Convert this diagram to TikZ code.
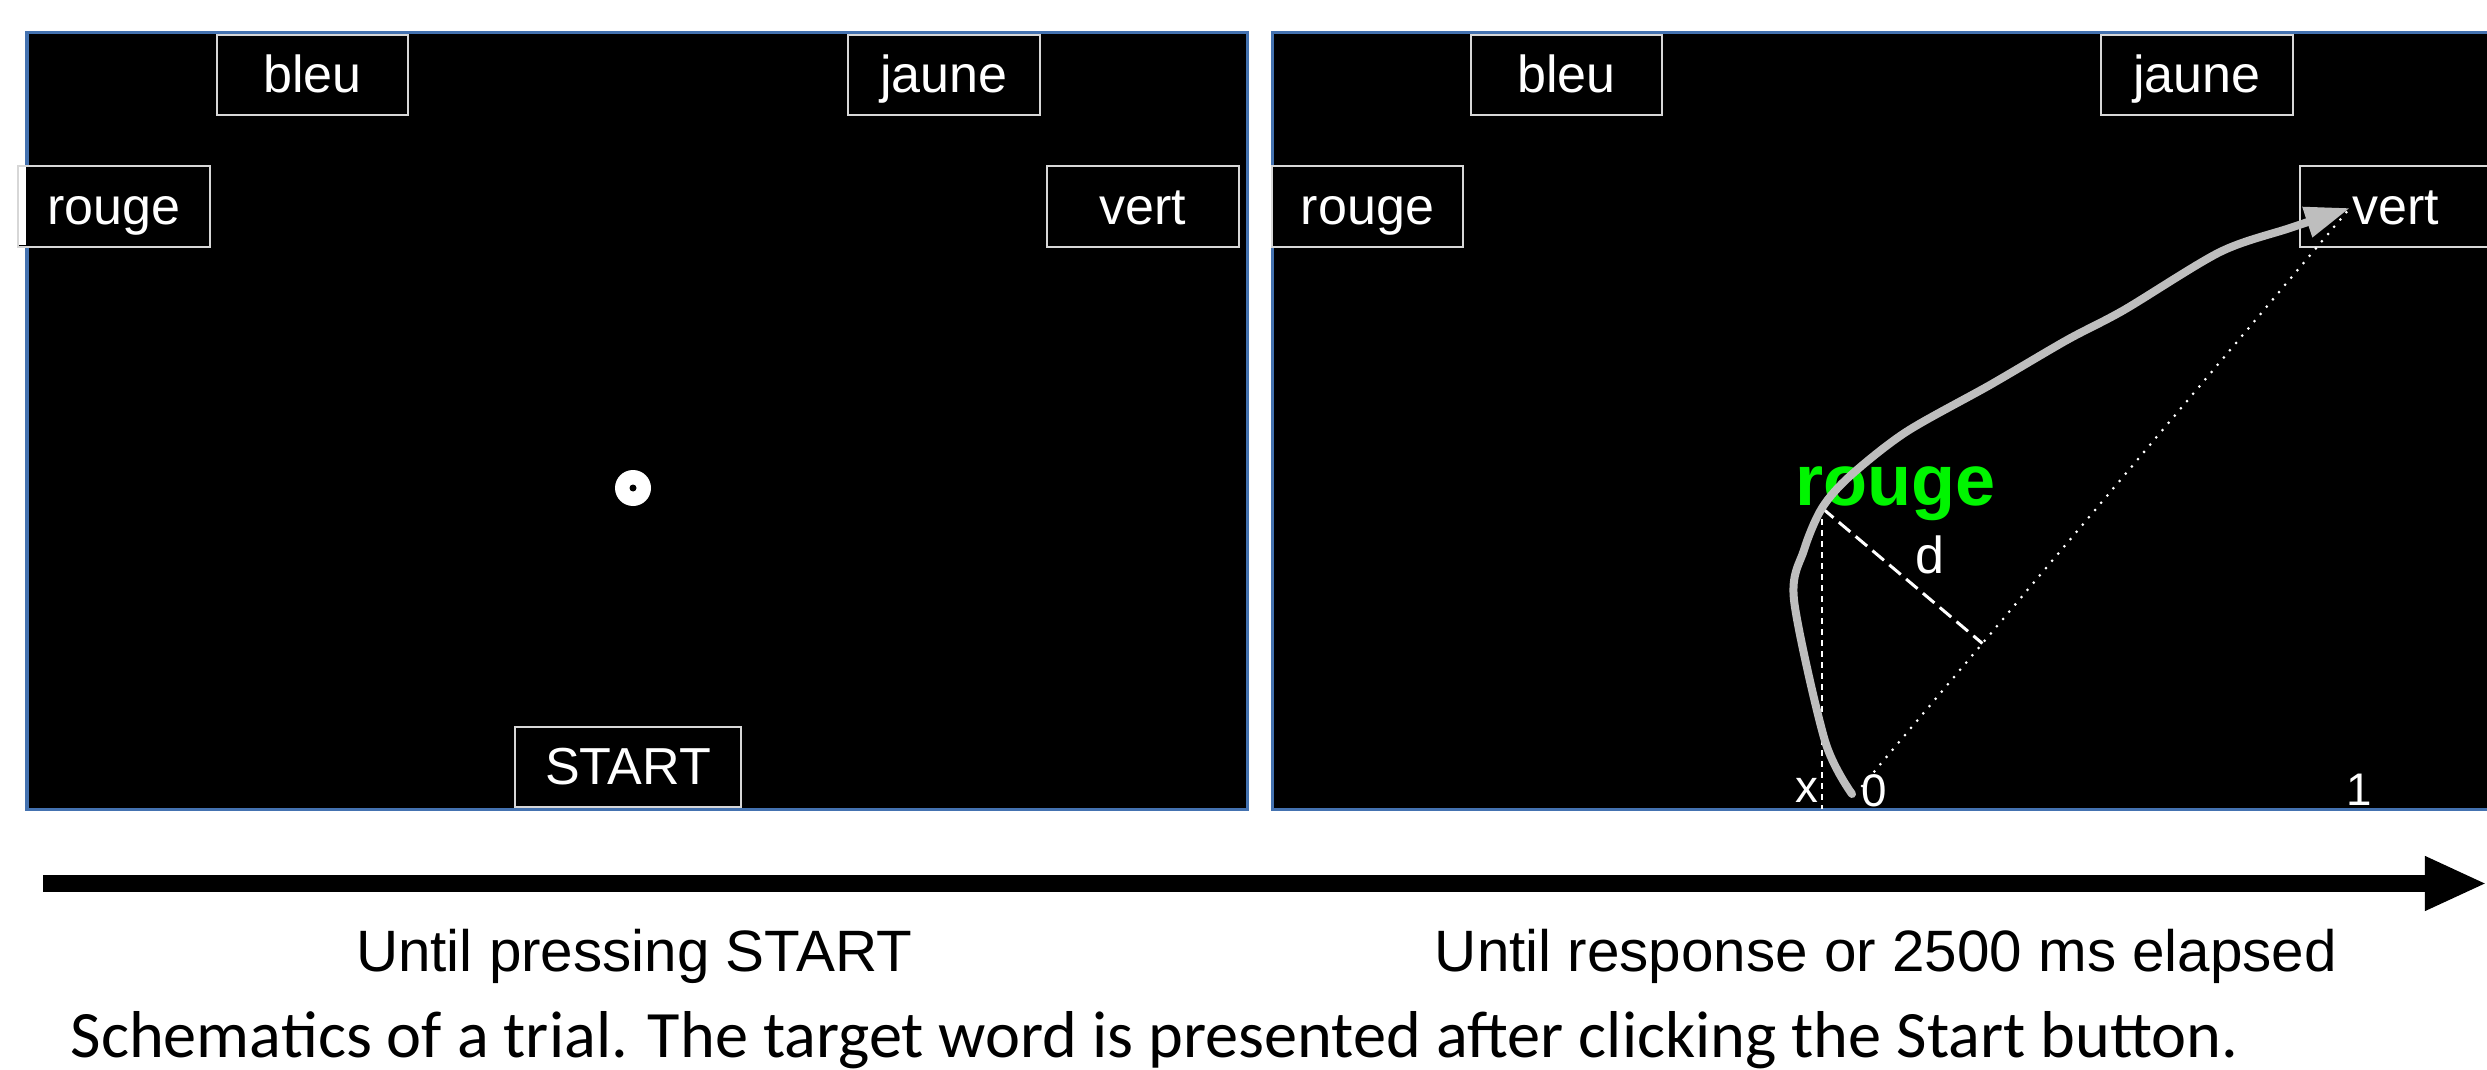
\documentclass[tikz,border=0pt]{standalone}
\usepackage{fontspec}
\setmainfont{Liberation Sans}
\newfontfamily\capfont{Carlito}
\usetikzlibrary{arrows.meta,calc}
\definecolor{panelblue}{RGB}{68,114,176}
\definecolor{boxgray}{RGB}{215,215,215}
\definecolor{trajgray}{RGB}{190,190,190}
\definecolor{wordgreen}{RGB}{0,245,0}
\tikzset{
  panel/.style={fill=black, draw=panelblue, line width=0.03cm},
  btn/.style={draw=boxgray, fill=black, line width=0.02cm, minimum width=1.91cm,
    minimum height=0.80cm, inner sep=0pt, text=white,
    font=\fontsize{14.8}{17}\selectfont, text height=13.3pt, text depth=3.1pt},
  axlabel/.style={text=white, inner sep=0pt, anchor=base, font=\fontsize{13}{15}\selectfont},
  phase/.style={text=black, inner sep=0pt, anchor=base, font=\fontsize{16.6}{19}\selectfont},
  traj/.style={draw=trajgray, line width=0.08cm, line cap=round, line join=round,
    -{Triangle[length=0.45cm,width=0.30cm]}},
  dotline/.style={draw=white, line width=0.03cm, line cap=round, dash pattern=on 0pt off 0.095cm},
  vdash/.style={draw=white, line width=0.02cm, dash pattern=on 0.06cm off 0.05cm},
  ddash/.style={draw=white, line width=0.03cm, dash pattern=on 0.15cm off 0.07cm},
  timeline/.style={draw=black, line width=0.17cm, -{Triangle[length=0.62cm,width=0.50cm]}}
}
\begin{document}
\begin{tikzpicture}[x=0.01cm, y=-0.01cm]
\useasboundingbox (0,0) rectangle (2487,1070);
\clip (0,0) rectangle (2487,1070);
\fill[white] (0,0) rectangle (2487,1070);

% panels
\draw[panel] (27,33) rectangle (1247,809);
\draw[panel] (1272,33) rectangle (2540,809);

% left panel buttons
\node[btn] (lbleu)  at (312.5,75)  {bleu};
\node[btn] (ljaune) at (944,75)    {jaune};
\node[btn] (lrouge) at (114,206.5) {rouge};
\fill[white] (19,167.5) rectangle (25.5,245.5);
\node[btn] (lvert)  at (1143,206.5){vert};
\node[btn, minimum width=2.26cm] (lstart) at (628,767) {START};

% fixation target
\fill[white] (633,488) circle (18);
\fill[black] (633,488) circle (3.5);

% right panel buttons
\node[btn] (rbleu)  at (1566.5,75)  {bleu};
\node[btn] (rjaune) at (2197,75)    {jaune};
\node[btn] (rrouge) at (1367.5,206.5) {rouge};
\node[btn] (rvert)  at (2395.5,206.5) {vert};

% target word
\node[text=wordgreen, inner sep=0pt, anchor=base west,
      font=\fontsize{20.5}{24}\bfseries\selectfont] (word) at (1795,505) {rouge};

% geometry
\coordinate (orig) at (1862,786);
\coordinate (tgt)  at (2350,208);
\coordinate (pt)   at (1822,508);
\coordinate (xbot) at (1822,809);
\coordinate (foot) at ($(orig)!(pt)!(tgt)$);

\draw[dotline] (orig) -- (tgt);
\draw[vdash] (pt) -- (xbot);
\draw[ddash] (pt) -- (foot);

% trajectory
\coordinate (t0) at (1852,794);
\coordinate (t1) at (1825,741);
\coordinate (t2) at (1794,600);
\coordinate (t3) at (1804,550);
\coordinate (t4) at (1822,508);
\coordinate (t5) at (1850,476);
\coordinate (t6) at (1906,432);
\coordinate (t7) at (1990,385);
\coordinate (t8) at (2067,340);
\coordinate (t9) at (2124,310);
\coordinate (t10) at (2220,252);
\coordinate (t11) at (2290,228);
\draw[traj] plot[smooth, tension=0.5] coordinates {(t0) (t1) (t2) (t3) (t4) (t5) (t6) (t7) (t8) (t9) (t10) (t11) (tgt)};

% labels
\node[text=white, inner sep=0pt, font=\fontsize{14.8}{17}\selectfont] (dlab) at (1930,555) {d};
\node[axlabel] (xlab) at (1807,802) {x};
\node[axlabel] (zlab) at (1874,806) {0};
\node[axlabel] (olab) at (2359,805) {1};

% time line
\coordinate (tA) at (43,883.5);
\coordinate (tB) at (2487,883.5);
\draw[timeline] (tA) -- (tB);

\node[phase] (ph1) at (634,971) {Until pressing START};
\node[phase] (ph2) at (1886,971) {Until response or 2500 ms elapsed};

\node[inner sep=0pt, anchor=base west, font=\capfont\fontsize{18.85}{22}\selectfont] (cap) at (70,1057)
  {Schematics of a trial. The target word is presented after clicking the Start button.};
\end{tikzpicture}
\end{document}
